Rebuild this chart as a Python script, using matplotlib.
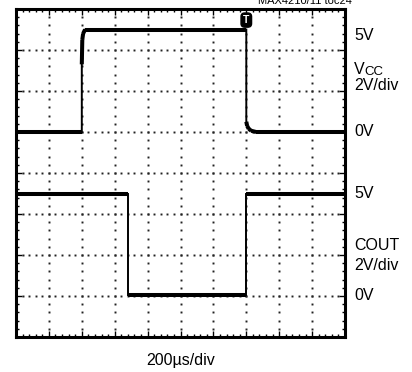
import numpy as np
import matplotlib
matplotlib.use("Agg")
import matplotlib.pyplot as plt

# ---- data (time in µs, voltage in V) ----
t_vcc = [0, 400, 400, 403, 408, 420, 1400, 1400, 1405, 1415, 1430, 1460, 2000]
v_vcc = [0.0, 0.0, 3.3, 4.5, 4.8, 5.0, 5.0, 0.5, 0.3, 0.15, 0.06, 0.0, 0.0]
t_cout = [0, 682, 682, 1400, 1400, 2000]
v_cout = [4.98, 4.98, 0.05, 0.05, 4.98, 4.98]
trigger_t = 1400

# scope settings
time_per_div = 200.0
volt_per_div = 2.0
vcc_offset_div = 5.0
cout_offset_div = 1.0
n_xdiv, n_ydiv = 10, 8

FONT = ['Liberation Sans Narrow', 'Liberation Sans', 'DejaVu Sans']

fig = plt.figure(figsize=(4.12, 3.72), dpi=100)
W, H = 412, 372
L, R, T, B = 16, 345, 9, 337
ax = fig.add_axes([L / W, 1 - B / H, (R - L) / W, (B - T) / H])
ax.set_xlim(0, n_xdiv)
ax.set_ylim(0, n_ydiv)

# graticule dots
for gx in range(1, n_xdiv):
    ys = np.arange(0, n_ydiv + 1e-9, 0.2)
    ax.plot(np.full_like(ys, gx), ys, ls='none', marker='s', ms=1.4, mfc='#222', mec='none', zorder=1)
for gy in range(1, n_ydiv):
    xs = np.arange(0, n_xdiv + 1e-9, 0.2)
    ax.plot(xs, np.full_like(xs, gy), ls='none', marker='s', ms=1.4, mfc='#222', mec='none', zorder=1)


def draw_trace(t, v, offset):
    x = np.array(t) / time_per_div
    y = offset + np.array(v) / volt_per_div
    ax.plot(x, y, color='black', lw=1.4, zorder=3, solid_joinstyle='miter')
    for i in range(len(x) - 1):
        if x[i + 1] != x[i]:
            ax.plot(x[i:i + 2], y[i:i + 2], color='black', lw=2.9, zorder=3,
                    solid_capstyle='butt')


draw_trace(t_vcc, v_vcc, vcc_offset_div)
draw_trace(t_cout, v_cout, cout_offset_div)

# trigger marker
ax.text(trigger_t / time_per_div, 7.73, 'T', color='white', fontsize=7.5, fontweight='bold',
        ha='center', va='center', family=FONT, zorder=5,
        bbox=dict(boxstyle='round,pad=0.2,rounding_size=0.35', fc='black', ec='black'))

# border & ticks
for s in ax.spines.values():
    s.set_linewidth(2.2)
ax.set_xticks(np.arange(0, n_xdiv + 1, 1))
ax.set_yticks(np.arange(0, n_ydiv + 1, 1))
ax.set_xticks(np.arange(0, n_xdiv + 1e-9, 0.2), minor=True)
ax.set_yticks(np.arange(0, n_ydiv + 1e-9, 0.2), minor=True)
ax.tick_params(which='both', direction='in', top=True, right=True,
               labelbottom=False, labelleft=False, width=1.0, color='black')
ax.tick_params(which='major', length=4)
ax.tick_params(which='minor', length=2.5)


def ftext(x, y, s, size=11.5, **kw):
    fig.text(x / W, 1 - y / H, s, fontsize=size, family=FONT, color='black', **kw)


ftext(354, 36, '5V', va='center')
ftext(354, 69, 'V', va='center')
ftext(364, 72, 'CC', size=9.5, va='center')
ftext(354, 86, '2V/div', va='center')
ftext(354, 131, '0V', va='center')
ftext(354, 194, '5V', va='center')
ftext(354, 245, 'COUT', va='center')
ftext(354, 265.5, '2V/div', va='center')
ftext(354, 296, '0V', va='center')
ftext(181, 361, '200µs/div', va='center', ha='center')
ftext(305, 4, 'MAX4210/11 toc24', size=8, va='baseline', ha='center')

fig.savefig('out.png', dpi=100)
